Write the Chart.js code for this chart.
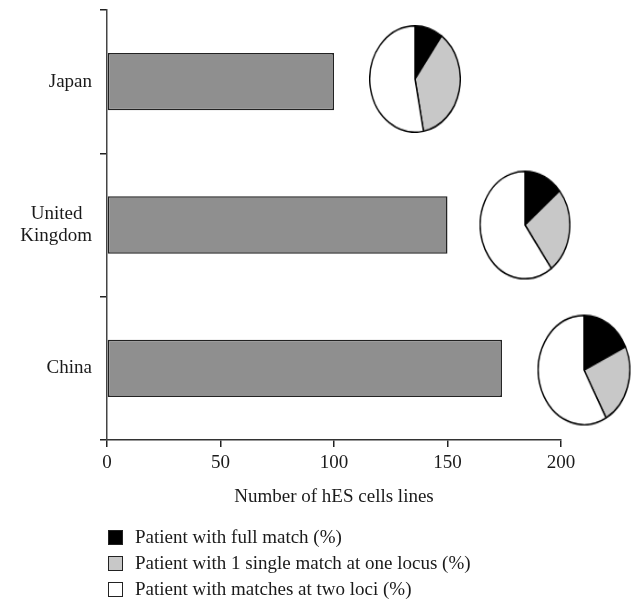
<!DOCTYPE html>
<html>
<head>
<meta charset="utf-8">
<script src="https://cdn.jsdelivr.net/npm/chart.js@4"></script>
<style>
  body { margin: 0; background: #fff; }
  #wrap { position: relative; width: 633px; height: 601px; }
  .pie { position: absolute; width: 100px; height: 100px; transform-origin: 50% 50%; }
  #legend { position: absolute; left: 108px; top: 524px; font: 19px "Liberation Serif", serif; color: #1a1a1a; }
  #legend div { display: flex; align-items: center; height: 26px; }
  #legend span.box { width: 15px; height: 15px; box-sizing: border-box; border: 1.5px solid #222; margin-right: 12px; }
</style>
</head>
<body>
<div id="wrap">
  <canvas id="bars" width="633" height="601"></canvas>
  <div class="pie" id="p0"><canvas id="pie0" width="100" height="100"></canvas></div>
  <div class="pie" id="p1"><canvas id="pie1" width="100" height="100"></canvas></div>
  <div class="pie" id="p2"><canvas id="pie2" width="100" height="100"></canvas></div>
  <div id="legend"></div>
</div>
<script>
const countries = ["Japan", "United Kingdom", "China"];
const hesLines = [100, 150, 174];
const xTicks = [0, 50, 100, 150, 200];

const matchLabels = [
  "Patient with full match (%)",
  "Patient with 1 single match at one locus (%)",
  "Patient with matches at two loci (%)"
];
const fullMatch = [10, 14, 18];
const singleMatch = [37, 26, 24];
const twoLoci = [53, 60, 58];

const matchColors = ["#000000", "#c8c8c8", "#ffffff"];
const font = { family: "'Liberation Serif', serif", size: 19 };
const ink = "#1a1a1a";

// split "United Kingdom" on two lines, short line centred over the long one
const measure = document.createElement("canvas").getContext("2d");
measure.font = "19px 'Liberation Serif'";
function twoLines(label) {
  const parts = label.split(" ");
  if (parts.length < 2) return label;
  const w0 = measure.measureText(parts[0]).width;
  const w1 = measure.measureText(parts[1]).width;
  const sp = measure.measureText(" ").width;
  const pad = " ".repeat(Math.round(Math.abs(w1 - w0) / 2 / sp));
  return w0 < w1 ? [parts[0] + pad, parts[1]] : [parts[0], parts[1] + pad];
}

new Chart(document.getElementById("bars"), {
  type: "bar",
  data: {
    labels: countries,
    datasets: [{
      data: hesLines,
      backgroundColor: "#8f8f8f",
      borderColor: "#222",
      borderWidth: 1.5,
      borderSkipped: false,
      categoryPercentage: 1,
      barPercentage: 0.4
    }]
  },
  options: {
    indexAxis: "y",
    responsive: false,
    animation: false,
    layout: { padding: { top: 10, right: 72, bottom: 91, left: 0 } },
    plugins: { legend: { display: false }, tooltip: { enabled: false } },
    scales: {
      x: {
        type: "linear",
        min: 0,
        max: 200,
        afterBuildTicks: (s) => { s.ticks = xTicks.map((v) => ({ value: v })); },
        afterFit: (s) => { s.height = 70; },
        grid: { drawOnChartArea: false, tickLength: 7, color: "#222", lineWidth: 1.5 },
        border: { color: "#333", width: 1.5 },
        ticks: { font, color: ink, padding: 5, maxRotation: 0 },
        title: { display: true, text: "Number of hES cells lines", font, color: ink, padding: { top: 0, bottom: 2 } }
      },
      y: {
        afterFit: (s) => { s.width = 107; s.paddingTop = 0; s.paddingBottom = 0; },
        grid: { drawOnChartArea: false, tickLength: 7, color: "#222", lineWidth: 1.5, offset: true },
        border: { color: "#444", width: 1.5 },
        ticks: {
          font,
          color: ink,
          padding: 8,
          callback: function (v) { return twoLines(this.getLabelForValue(v)); }
        }
      }
    }
  }
});

// pie insets next to each bar
const pieBoxes = [
  { cx: 415, cy: 79, sx: 0.92, sy: 1.08 },
  { cx: 524.5, cy: 224.5, sx: 0.91, sy: 1.09 },
  { cx: 583.5, cy: 369.5, sx: 0.93, sy: 1.11 }
];
countries.forEach((c, i) => {
  const box = pieBoxes[i];
  const div = document.getElementById("p" + i);
  div.style.left = (box.cx - 50) + "px";
  div.style.top = (box.cy - 50) + "px";
  div.style.transform = "scale(" + box.sx + "," + box.sy + ")";
  new Chart(document.getElementById("pie" + i), {
    type: "pie",
    data: {
      labels: matchLabels,
      datasets: [{
        data: [fullMatch[i], singleMatch[i], twoLoci[i]],
        backgroundColor: matchColors,
        borderColor: "#000",
        borderWidth: 1.5
      }]
    },
    options: {
      responsive: false,
      animation: false,
      layout: { padding: 0 },
      plugins: { legend: { display: false }, tooltip: { enabled: false } }
    }
  });
});

const legend = document.getElementById("legend");
matchLabels.forEach((t, i) => {
  const row = document.createElement("div");
  const sq = document.createElement("span");
  sq.className = "box";
  sq.style.background = matchColors[i];
  row.appendChild(sq);
  row.appendChild(document.createTextNode(t));
  legend.appendChild(row);
});
</script>
</body>
</html>
